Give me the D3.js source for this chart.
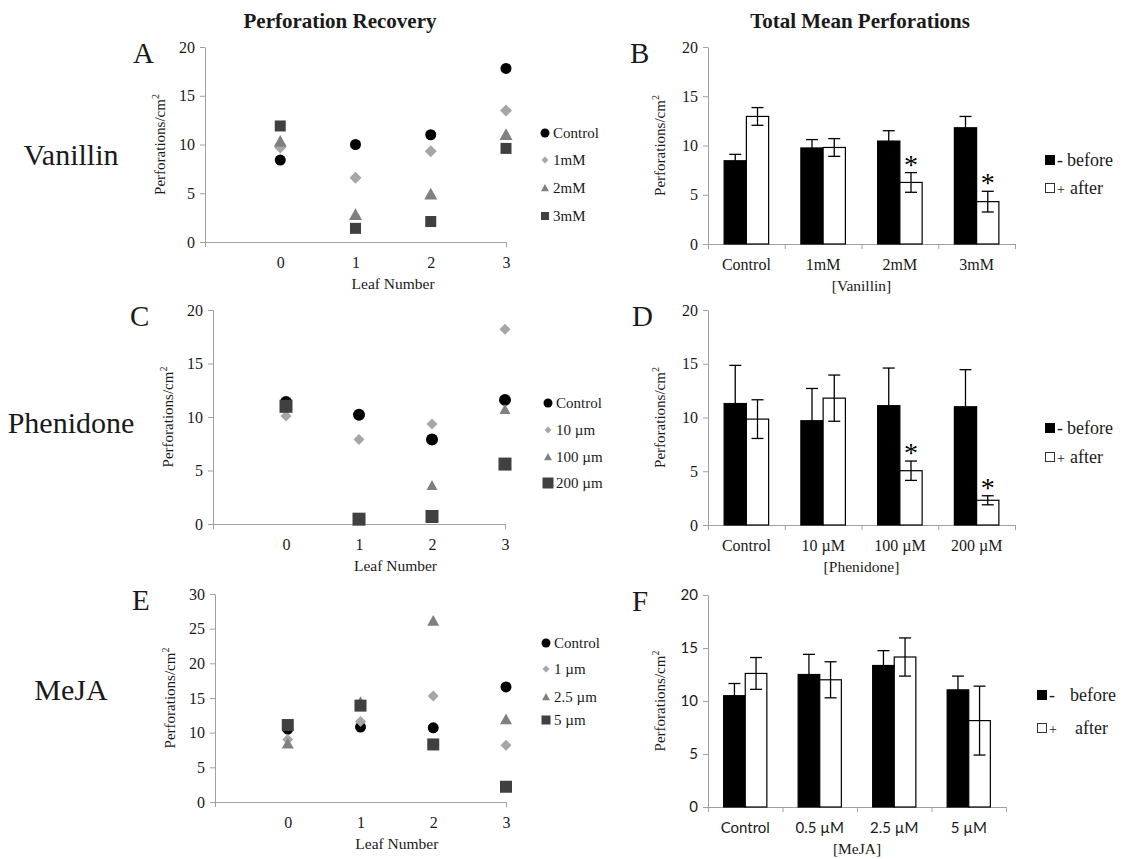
<!DOCTYPE html>
<html><head><meta charset="utf-8">
<script src="https://cdn.jsdelivr.net/npm/d3@7"></script>
<style>body{margin:0;background:#fff} svg{display:block}</style>
</head><body><svg id="c" width="1124" height="859"></svg>
<script>
// ---------------- DATA ----------------
const leafNumbers = [0, 1, 2, 3];
const yTicks20 = [0, 5, 10, 15, 20];
const yTicks30 = [0, 5, 10, 15, 20, 25, 30];

// Panel A – Vanillin perforation recovery
const vanillinSeries = ["Control", "1mM", "2mM", "3mM"];
const vanillinControl = [8.4, 10.0, 11.0, 17.8];
const vanillin1mM = [9.7, 6.6, 9.3, 13.5];
const vanillin2mM = [10.3, 2.8, 4.9, 11.0];
const vanillin3mM = [11.9, 1.4, 2.1, 9.6];

// Panel C – Phenidone perforation recovery
const phenidoneSeries = ["Control", "10 µm", "100 µm", "200 µm"];
const phenidoneControl = [11.4, 10.2, 7.9, 11.6];
const phenidone10 = [10.1, 7.9, 9.35, 18.2];
const phenidone100 = [11.0, 0.4, 3.6, 10.7];
const phenidone200 = [11.0, 0.45, 0.7, 5.6];

// Panel E – MeJA perforation recovery
const mejaSeries = ["Control", "1 µm", "2.5 µm", "5 µm"];
const mejaControl = [10.5, 10.8, 10.7, 16.6];
const meja1 = [9.0, 11.6, 15.3, 8.2];
const meja25 = [8.4, 14.4, 26.1, 11.9];
const meja5 = [11.1, 13.9, 8.3, 2.2];

// Panel B – Vanillin total mean perforations
const vanillinCats = ["Control", "1mM", "2mM", "3mM"];
const vanillinBefore = [8.45, 9.75, 10.45, 11.8];
const vanillinBeforeErr = [0.65, 0.85, 1.05, 1.15];
const vanillinAfter = [12.95, 9.8, 6.25, 4.3];
const vanillinAfterErr = [0.9, 0.9, 1.0, 1.05];
const vanillinSig = [false, false, true, true];

// Panel D – Phenidone total mean perforations
const phenidoneCats = ["Control", "10 µM", "100 µM", "200 µM"];
const phenidoneBefore = [11.3, 9.7, 11.1, 11.0];
const phenidoneBeforeErr = [3.55, 3.0, 3.5, 3.45];
const phenidoneAfter = [9.85, 11.8, 5.05, 2.3];
const phenidoneAfterErr = [1.8, 2.15, 0.9, 0.42];
const phenidoneSig = [false, false, true, true];

// Panel F – MeJA total mean perforations
const mejaCats = ["Control", "0.5 µM", "2.5 µM", "5 µM"];
const mejaBefore = [10.5, 12.5, 13.35, 11.05];
const mejaBeforeErr = [1.15, 1.9, 1.4, 1.3];
const mejaAfter = [12.6, 12.0, 14.15, 8.15];
const mejaAfterErr = [1.5, 1.7, 1.8, 3.25];
const mejaSig = [false, false, false, false];

// ---------------- DRAWING ----------------
const SERIF = "'Liberation Serif','Times New Roman',serif";
const SANS = "Lato,'Open Sans',sans-serif";
const TXT = "#1a1a1a";
const AXIS = "#a0a0a0";
const svg = d3.select("#c");

const markerColors = {circle: "#000000", diamond: "#a6a6a6", triangle: "#808080", square: "#404040"};
const markerTypes = ["circle", "diamond", "triangle", "square"];

function marker(g, type, size, cx, cy) {
  const h = size / 2, c = markerColors[type];
  if (type === "circle") g.append("circle").attr("cx", cx).attr("cy", cy).attr("r", h).attr("fill", c);
  else if (type === "square") g.append("rect").attr("x", cx - h).attr("y", cy - h).attr("width", size).attr("height", size).attr("fill", c);
  else if (type === "diamond") g.append("path").attr("d", `M${cx},${cy - h}L${cx + h},${cy}L${cx},${cy + h}L${cx - h},${cy}Z`).attr("fill", c);
  else g.append("path").attr("d", `M${cx},${cy - h}L${cx + h},${cy + h * 0.8}L${cx - h},${cy + h * 0.8}Z`).attr("fill", c);
}

function styleAxis(g, font, size) {
  g.select(".domain").attr("stroke", AXIS);
  g.selectAll(".tick line").attr("stroke", AXIS);
  g.selectAll(".tick text").attr("font-family", font).attr("font-size", size).attr("fill", TXT);
}

function yTitle(x, yMid) {
  const t = svg.append("text").attr("transform", `translate(${x},${yMid}) rotate(-90)`)
    .attr("text-anchor", "middle").attr("font-family", SERIF).attr("font-size", 15).attr("fill", TXT);
  t.append("tspan").text("Perforations/cm");
  t.append("tspan").attr("font-size", 10).attr("dy", -6).text("2");
}

function scatterPanel(cfg) {
  const x = d3.scaleLinear().domain([-1, 3]).range([cfg.x0, cfg.x1]);
  const y = d3.scaleLinear().domain([0, cfg.ymax]).range([cfg.yb, cfg.yt]);
  const gy = svg.append("g").attr("transform", `translate(${cfg.x0},0)`)
    .call(d3.axisLeft(y).tickValues(cfg.yticks).tickSize(5).tickPadding(5).tickSizeOuter(0));
  styleAxis(gy, SERIF, 16);
  const gx = svg.append("g").attr("transform", `translate(0,${cfg.yb})`)
    .call(d3.axisBottom(x).tickValues([-1].concat(leafNumbers)).tickSize(5).tickPadding(10).tickSizeOuter(0)
      .tickFormat(d => d < 0 ? "" : d));
  styleAxis(gx, SERIF, 16);
  gx.selectAll(".tick line").attr("opacity", d => (d === -1 || d === 3) ? 1 : 0);
  svg.append("text").attr("x", (x(0) + x(3)) / 2).attr("y", cfg.yb + 47).attr("text-anchor", "middle")
    .attr("font-family", SERIF).attr("font-size", 15.5).attr("fill", TXT).text("Leaf Number");
  yTitle(cfg.x0 - 40, (cfg.yt + cfg.yb) / 2);
  const g = svg.append("g");
  cfg.series.forEach((vals, si) => {
    vals.forEach((v, i) => marker(g, markerTypes[si], cfg.sizes[si], x(leafNumbers[i]), y(v)));
  });
  // legend
  cfg.names.forEach((n, si) => {
    marker(g, markerTypes[si], cfg.legSizes[si], cfg.legX, cfg.legY[si]);
    svg.append("text").attr("x", cfg.legX + 8).attr("y", cfg.legY[si] + 5).attr("font-family", SERIF)
      .attr("font-size", 15).attr("fill", TXT).text(n);
  });
}

function barPanel(cfg) {
  const n = cfg.cats.length;
  const xb = d3.scaleBand().domain(cfg.cats).range([cfg.x0, cfg.x1]).paddingInner(0.42).paddingOuter(0.21);
  const xs = d3.scaleBand().domain(["before", "after"]).range([0, xb.bandwidth()]);
  const xl = d3.scaleLinear().domain([0, n]).range([cfg.x0, cfg.x1]);
  const y = d3.scaleLinear().domain([0, 20]).range([cfg.yb, cfg.yt]);
  const gy = svg.append("g").attr("transform", `translate(${cfg.x0},0)`)
    .call(d3.axisLeft(y).tickValues(yTicks20).tickSize(5).tickPadding(5).tickSizeOuter(0));
  styleAxis(gy, cfg.tickFont, cfg.tickFont === SANS ? 15 : 16);
  const gx = svg.append("g").attr("transform", `translate(0,${cfg.yb})`)
    .call(d3.axisBottom(xl).tickValues(d3.range(n + 1)).tickSize(5).tickSizeOuter(0).tickFormat(""));
  styleAxis(gx, cfg.tickFont, 16);
  const gl = svg.append("g").attr("transform", `translate(0,${cfg.yb})`)
    .call(d3.axisBottom(xb).tickSize(0).tickPadding(15));
  gl.select(".domain").remove();
  gl.selectAll(".tick text").attr("font-family", cfg.tickFont).attr("font-size", cfg.tickFont === SANS ? 15 : 16).attr("fill", TXT);
  svg.append("text").attr("x", (cfg.x0 + cfg.x1) / 2).attr("y", cfg.yb + 47).attr("text-anchor", "middle")
    .attr("font-family", SERIF).attr("font-size", 15.5).attr("fill", TXT).text(cfg.title);
  yTitle(cfg.x0 - 43, (cfg.yt + cfg.yb) / 2);

  const g = svg.append("g");
  const groups = [
    {key: "before", vals: cfg.before, errs: cfg.beforeErr, fill: "#000"},
    {key: "after", vals: cfg.after, errs: cfg.afterErr, fill: "#fff"}
  ];
  groups.forEach(gr => {
    gr.vals.forEach((v, i) => {
      const bx = xb(cfg.cats[i]) + xs(gr.key), w = xs.bandwidth();
      g.append("rect").attr("x", bx).attr("y", y(v)).attr("width", w).attr("height", y(0) - y(v))
        .attr("fill", gr.fill).attr("stroke", "#000").attr("stroke-width", 1.2);
      const cx = bx + w / 2, e = gr.errs[i];
      const eg = g.append("g").attr("stroke", "#000").attr("stroke-width", 1.3);
      eg.append("line").attr("x1", cx).attr("x2", cx).attr("y1", y(v - e)).attr("y2", y(v + e));
      eg.append("line").attr("x1", cx - 6).attr("x2", cx + 6).attr("y1", y(v - e)).attr("y2", y(v - e));
      eg.append("line").attr("x1", cx - 6).attr("x2", cx + 6).attr("y1", y(v + e)).attr("y2", y(v + e));
      if (gr.key === "after" && cfg.sig[i]) {
        g.append("text").attr("x", cx).attr("y", y(v + e) + 1).attr("text-anchor", "middle")
          .attr("font-family", SERIF).attr("font-size", 28).attr("fill", "#000").text("*");
      }
    });
  });
  // legend
  const L = cfg.leg;
  svg.append("rect").attr("x", L.x).attr("y", L.y1 - 5).attr("width", 10).attr("height", 10).attr("fill", "#000");
  svg.append("rect").attr("x", L.x + 0.5).attr("y", L.y2 - 4.5).attr("width", 9).attr("height", 9).attr("fill", "#fff").attr("stroke", "#333").attr("stroke-width", 1);
  svg.append("text").attr("x", L.x + 12).attr("y", L.y1 + 6).attr("font-family", SERIF).attr("font-size", 18).attr("fill", TXT).text("-");
  svg.append("text").attr("x", L.tx1).attr("y", L.y1 + 6).attr("font-family", SERIF).attr("font-size", 18).attr("fill", TXT).text("before");
  svg.append("text").attr("x", L.x + 12).attr("y", L.y2 + 6).attr("font-family", SERIF).attr("font-size", 14).attr("fill", TXT).text("+");
  svg.append("text").attr("x", L.tx2).attr("y", L.y2 + 6).attr("font-family", SERIF).attr("font-size", 18).attr("fill", TXT).text("after");
}

// Column titles
svg.append("text").attr("x", 340).attr("y", 28).attr("text-anchor", "middle").attr("font-family", SERIF)
  .attr("font-weight", "bold").attr("font-size", 21).attr("fill", TXT).text("Perforation Recovery");
svg.append("text").attr("x", 860).attr("y", 28).attr("text-anchor", "middle").attr("font-family", SERIF)
  .attr("font-weight", "bold").attr("font-size", 21).attr("fill", TXT).text("Total Mean Perforations");

// Row labels
[["Vanillin", 165], ["Phenidone", 433], ["MeJA", 700]].forEach(([t, yy]) => {
  svg.append("text").attr("x", 71).attr("y", yy).attr("text-anchor", "middle").attr("font-family", SERIF)
    .attr("font-size", 30).attr("fill", TXT).text(t);
});
// Panel letters
[["A", 133, 63], ["B", 630, 63], ["C", 130, 326], ["D", 632, 326], ["E", 132, 610], ["F", 632, 611]].forEach(([t, xx, yy]) => {
  svg.append("text").attr("x", xx).attr("y", yy).attr("font-family", SERIF).attr("font-size", 29).attr("fill", TXT).text(t);
});

scatterPanel({x0: 205, x1: 506, yt: 47, yb: 242, ymax: 20, yticks: yTicks20,
  series: [vanillinControl, vanillin1mM, vanillin2mM, vanillin3mM], names: vanillinSeries,
  sizes: [11, 12, 13, 11], legSizes: [9, 7, 8, 8], legX: 545, legY: [133, 160, 188, 216]});
scatterPanel({x0: 213, x1: 505, yt: 310, yb: 524, ymax: 20, yticks: yTicks20,
  series: [phenidoneControl, phenidone10, phenidone100, phenidone200], names: phenidoneSeries,
  sizes: [12, 11, 11, 13], legSizes: [9, 7, 8, 11], legX: 548, legY: [403, 430, 457, 483]});
scatterPanel({x0: 215, x1: 506, yt: 594, yb: 802, ymax: 30, yticks: yTicks30,
  series: [mejaControl, meja1, meja25, meja5], names: mejaSeries,
  sizes: [11, 11, 12, 12], legSizes: [9, 7, 8, 9], legX: 546, legY: [643, 669, 697, 720]});

barPanel({x0: 708, x1: 1015, yt: 47, yb: 244, cats: vanillinCats, before: vanillinBefore, beforeErr: vanillinBeforeErr,
  after: vanillinAfter, afterErr: vanillinAfterErr, sig: vanillinSig, title: "[Vanillin]", tickFont: SERIF,
  leg: {x: 1045, y1: 160, y2: 188, tx1: 1067, tx2: 1070}});
barPanel({x0: 708, x1: 1015, yt: 310, yb: 525, cats: phenidoneCats, before: phenidoneBefore, beforeErr: phenidoneBeforeErr,
  after: phenidoneAfter, afterErr: phenidoneAfterErr, sig: phenidoneSig, title: "[Phenidone]", tickFont: SERIF,
  leg: {x: 1045, y1: 428, y2: 457, tx1: 1067, tx2: 1070}});
barPanel({x0: 708, x1: 1006, yt: 595, yb: 807, cats: mejaCats, before: mejaBefore, beforeErr: mejaBeforeErr,
  after: mejaAfter, afterErr: mejaAfterErr, sig: mejaSig, title: "[MeJA]", tickFont: SANS,
  leg: {x: 1037, y1: 695, y2: 728, tx1: 1070, tx2: 1075}});
</script>
</body></html>
